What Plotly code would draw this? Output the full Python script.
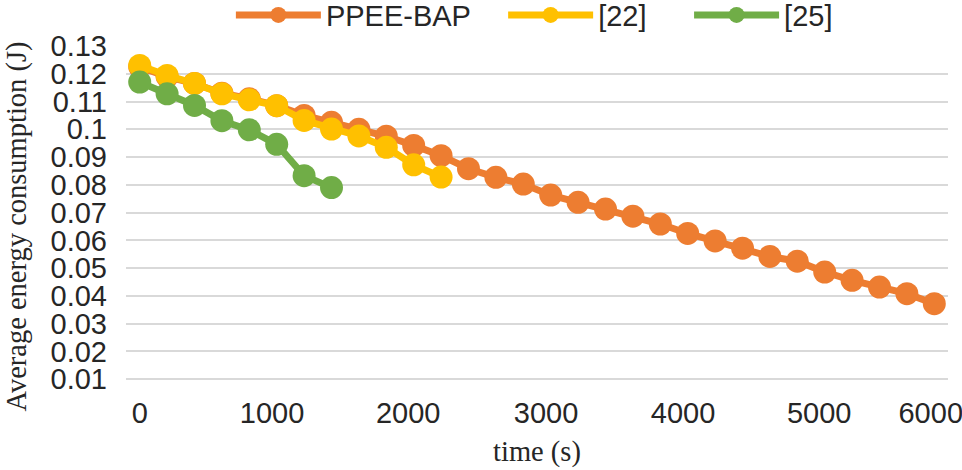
import plotly.graph_objects as go

# ---- data ----
sample_index = [0, 1, 2, 3, 4, 5, 6, 7, 8, 9, 10, 11, 12, 13, 14,
                15, 16, 17, 18, 19, 20, 21, 22, 23, 24, 25, 26, 27, 28, 29]

ppee_bap = [0.1225, 0.1190, 0.1165, 0.1130, 0.1110, 0.1085, 0.1050, 0.1025,
            0.1000, 0.0975, 0.0942, 0.0905, 0.0858, 0.0827, 0.0803, 0.0763,
            0.0737, 0.0713, 0.0687, 0.0659, 0.0625, 0.0598, 0.0572, 0.0542,
            0.0525, 0.0486, 0.0456, 0.0432, 0.0408, 0.0372]

ref22 = [0.1230, 0.1194, 0.1165, 0.1128, 0.1106, 0.1085, 0.1032, 0.1001,
         0.0976, 0.0935, 0.0872, 0.0828]

ref25 = [0.1170, 0.1128, 0.1086, 0.1031, 0.0998, 0.0946, 0.0833, 0.0790]

series_names = ["PPEE-BAP", "[22]", "[25]"]
series_colors = ["#ED7D31", "#FFC000", "#70AD47"]

x_tick_positions = [0, 4.83, 9.8, 14.83, 19.83, 24.8, 28.87]
x_tick_labels = ["0", "1000", "2000", "3000", "4000", "5000", "6000"]

y_tick_values = [0.01, 0.02, 0.03, 0.04, 0.05, 0.06, 0.07, 0.08, 0.09,
                 0.10, 0.11, 0.12, 0.13]
y_tick_labels = ["0.01", "0.02", "0.03", "0.04", "0.05", "0.06", "0.07",
                 "0.08", "0.09", "0.1", "0.11", "0.12", "0.13"]

# one legend per series so each entry can sit where the reference has it
legend_ids = ["legend", "legend2", "legend3"]
legend_x = [0.240, 0.523, 0.7163]

# ---- figure ----
fig = go.Figure()
all_series = [ppee_bap, ref22, ref25]
for name, color, values, lg in zip(series_names, series_colors, all_series, legend_ids):
    fig.add_trace(go.Scatter(
        x=sample_index[:len(values)],
        y=values,
        name=name,
        legend=lg,
        mode="lines+markers",
        line=dict(color=color, width=7),
        marker=dict(color=color, size=23, symbol="circle"),
    ))

tick_font = dict(family="Liberation Sans, Arial, sans-serif", size=29, color="#262626")
title_font = dict(family="Liberation Serif, Times New Roman, serif", size=28.5, color="#262626")

legend_common = dict(
    orientation="h",
    xref="container", xanchor="left",
    y=0.968, yanchor="middle", yref="container",
    font=tick_font,
    bgcolor="rgba(0,0,0,0)",
    itemwidth=85,
)

layout_legends = {}
for lg, lx in zip(legend_ids, legend_x):
    layout_legends[lg] = dict(legend_common, x=lx)

fig.update_layout(
    width=962,
    height=470,
    margin=dict(l=126, r=14, t=46, b=63, autoexpand=False),
    paper_bgcolor="white",
    plot_bgcolor="white",
    showlegend=True,
    xaxis=dict(
        range=[-0.5, 29.5],
        tickmode="array",
        tickvals=x_tick_positions,
        ticktext=x_tick_labels,
        tickfont=tick_font,
        showgrid=False,
        zeroline=False,
        showline=False,
        ticks="",
        ticklabelstandoff=-14,
        ticklabeloverflow="allow",
        title=dict(text="time (s)", font=title_font, standoff=13),
    ),
    yaxis=dict(
        range=[0, 0.13],
        tickmode="array",
        tickvals=y_tick_values,
        ticktext=y_tick_labels,
        tickfont=tick_font,
        showgrid=True,
        gridcolor="#D9D9D9",
        gridwidth=2,
        zeroline=False,
        showline=False,
        ticks="",
        ticklabelstandoff=18,
        title=dict(text="Average energy consumption (J)", font=title_font, standoff=15),
    ),
    **layout_legends,
)

fig.write_html("out.html", config={"displayModeBar": False},
               post_script="document.body.style.margin='0';")
